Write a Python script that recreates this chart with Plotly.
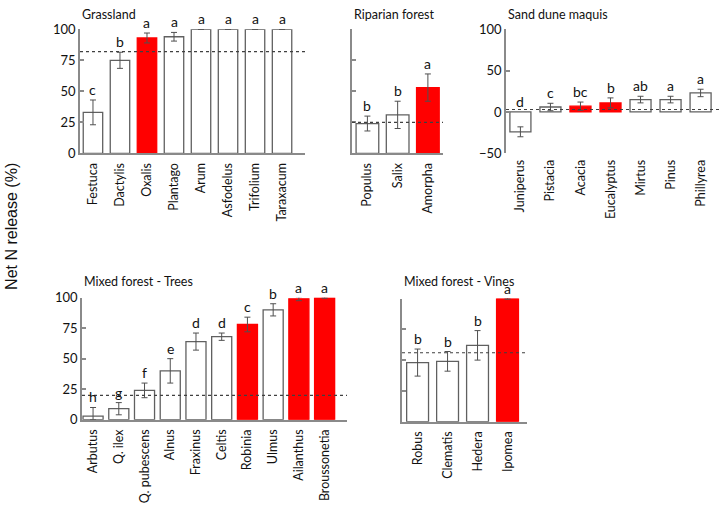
import plotly.graph_objects as go

W, H = 721, 511

# Grassland
grass_species = ["Festuca", "Dactylis", "Oxalis", "Plantago", "Arum", "Asfodelus", "Trifolium", "Taraxacum"]
grass_values = [33, 75, 93, 94, 100, 100, 100, 100]
grass_err = [10, 6.5, 4, 3.5, 0, 0, 0, 0]
grass_letters = ["c", "b", "a", "a", "a", "a", "a", "a"]
grass_invasive = ["Oxalis"]
grass_mean = 82

# Riparian forest
rip_species = ["Populus", "Salix", "Amorpha"]
rip_values = [24, 31, 53]
rip_err = [6, 11, 11]
rip_letters = ["b", "b", "a"]
rip_invasive = ["Amorpha"]
rip_mean = 25

# Sand dune maquis
sand_species = ["Juniperus", "Pistacia", "Acacia", "Eucalyptus", "Mirtus", "Pinus", "Phillyrea"]
sand_values = [-24, 6, 7, 11, 15, 15, 23]
sand_err = [6, 4.5, 5, 6, 4, 4, 4.5]
sand_letters = ["d", "c", "bc", "b", "ab", "a", "a"]
sand_invasive = ["Acacia", "Eucalyptus"]
sand_mean = 3

# Mixed forest - Trees
tree_species = ["Arbutus", "Q. ilex", "Q. pubescens", "Alnus", "Fraxinus", "Celtis",
                "Robinia", "Ulmus", "Ailanthus", "Broussonetia"]
tree_values = [3, 9, 24, 40, 64, 68, 78, 90, 99, 100]
tree_err = [7, 5, 6, 10, 7, 3, 6, 5, 1.5, 0.5]
tree_letters = ["h", "g", "f", "e", "d", "d", "c", "b", "a", "a"]
tree_invasive = ["Robinia", "Ailanthus", "Broussonetia"]
tree_mean = 20

# Mixed forest - Vines
vine_species = ["Robus", "Clematis", "Hedera", "Ipomea"]
vine_values = [48, 49, 62, 100]
vine_err = [11, 8, 12, 0.5]
vine_letters = ["b", "b", "b", "a"]
vine_invasive = ["Ipomea"]
vine_mean = 56

GREY = "#8a8a8a"
EDGE = "#606060"
FONT = "Lato"

# panel: (title, species, values, err, letters, invasive, mean,
#         x px range, y px range, x data range, y range, dtick, show ytick labels, show x line, bar width)
panels = [
    ("Grassland", grass_species, grass_values, grass_err, grass_letters, grass_invasive, grass_mean,
     (80, 305), (22, 150), [-0.48, 7.85], [0, 100], 25, True, True, 0.72),
    ("Riparian forest", rip_species, rip_values, rip_err, rip_letters, rip_invasive, rip_mean,
     (352, 443), (22, 150), [-0.51, 2.5], [0, 100], 25, False, True, 0.75),
    ("Sand dune maquis", sand_species, sand_values, sand_err, sand_letters, sand_invasive, sand_mean,
     (506, 721), (22, 150), [-0.48, 6.68], [-50, 100], 50, True, False, 0.7),
    ("Mixed forest - Trees", tree_species, tree_values, tree_err, tree_letters, tree_invasive, tree_mean,
     (82, 347), (299, 425), [-0.43, 9.87], [0, 100], 25, True, True, 0.78),
    ("Mixed forest - Vines", vine_species, vine_values, vine_err, vine_letters, vine_invasive, vine_mean,
     (402, 527), (300, 427), [-0.52, 3.65], [0, 100], 25, False, True, 0.73),
]

fig = go.Figure()
layout = {}
annotations = []
shapes = []

for i, (title, sp, vals, err, letters, inv, mean, xpx, ypx, xr, yr, dt, showy, showx, bw) in enumerate(panels, 1):
    xa = "x" if i == 1 else f"x{i}"
    ya = "y" if i == 1 else f"y{i}"
    colors = ["#FF0000" if s in inv else "white" for s in sp]
    edges = ["#FF0000" if s in inv else EDGE for s in sp]
    minus = [min(e, v) if v > 0 else e for e, v in zip(err, vals)]
    fig.add_trace(go.Bar(
        x=sp, y=vals, xaxis=xa, yaxis=ya, width=bw,
        marker=dict(color=colors, line=dict(color=edges, width=1.3)),
        error_y=dict(type="data", array=err, arrayminus=minus, color="#505050",
                     thickness=1, width=3),
        cliponaxis=False, showlegend=False,
    ))
    layout["xaxis" if i == 1 else f"xaxis{i}"] = dict(
        domain=[xpx[0] / W, xpx[1] / W], anchor=ya, range=xr, type="category",
        showline=showx, linecolor=GREY, linewidth=1.5, ticks="", tickangle=-90,
        tickfont=dict(family=FONT, size=12.5, color="#111"), showgrid=False, zeroline=False,
        ticklabelstandoff=3,
    )
    layout["yaxis" if i == 1 else f"yaxis{i}"] = dict(
        domain=[1 - ypx[1] / H, 1 - ypx[0] / H], anchor=xa, range=yr, dtick=dt,
        showline=True, linecolor=GREY, linewidth=1.5, ticks="inside", ticklen=4,
        tickcolor=GREY, tickwidth=1.5, showticklabels=showy,
        tickfont=dict(family=FONT, size=13, color="#111"), showgrid=False, zeroline=False,
    )
    shapes.append(dict(type="line", xref=f"{xa} domain", yref=ya, x0=0, x1=1, y0=mean, y1=mean,
                       line=dict(color="#404040", width=1.2, dash="dot")))
    for s, v, e, lt in zip(sp, vals, err, letters):
        top = min(max(v + e, 0), yr[1])
        annotations.append(dict(x=s, y=top, xref=xa, yref=ya, text=lt, showarrow=False,
                                yanchor="bottom", yshift=0,
                                font=dict(family=FONT, size=14, color="#111")))
    annotations.append(dict(x=xpx[0] / W, y=1 - (7 if i <= 3 else 282) / H, xref="paper", yref="paper",
                            text=title, showarrow=False, xanchor="left", yanchor="middle",
                            font=dict(family=FONT, size=12.5, color="#111")))

annotations.append(dict(x=12 / W, y=1 - 226 / H, xref="paper", yref="paper", text="Net N release (%)",
                        textangle=-90, showarrow=False, xanchor="center", yanchor="middle",
                        font=dict(family="Liberation Sans", size=16, color="#111")))

fig.update_layout(
    width=W, height=H, margin=dict(l=0, r=0, t=0, b=0),
    plot_bgcolor="white", paper_bgcolor="white",
    annotations=annotations, shapes=shapes, bargap=0.3,
    **layout,
)

# the page body has a default 8px margin; remove it so the figure sits at the window corner
fig.write_html("out.html", post_script="document.body.style.margin='0';",
               config={"displayModeBar": False})
